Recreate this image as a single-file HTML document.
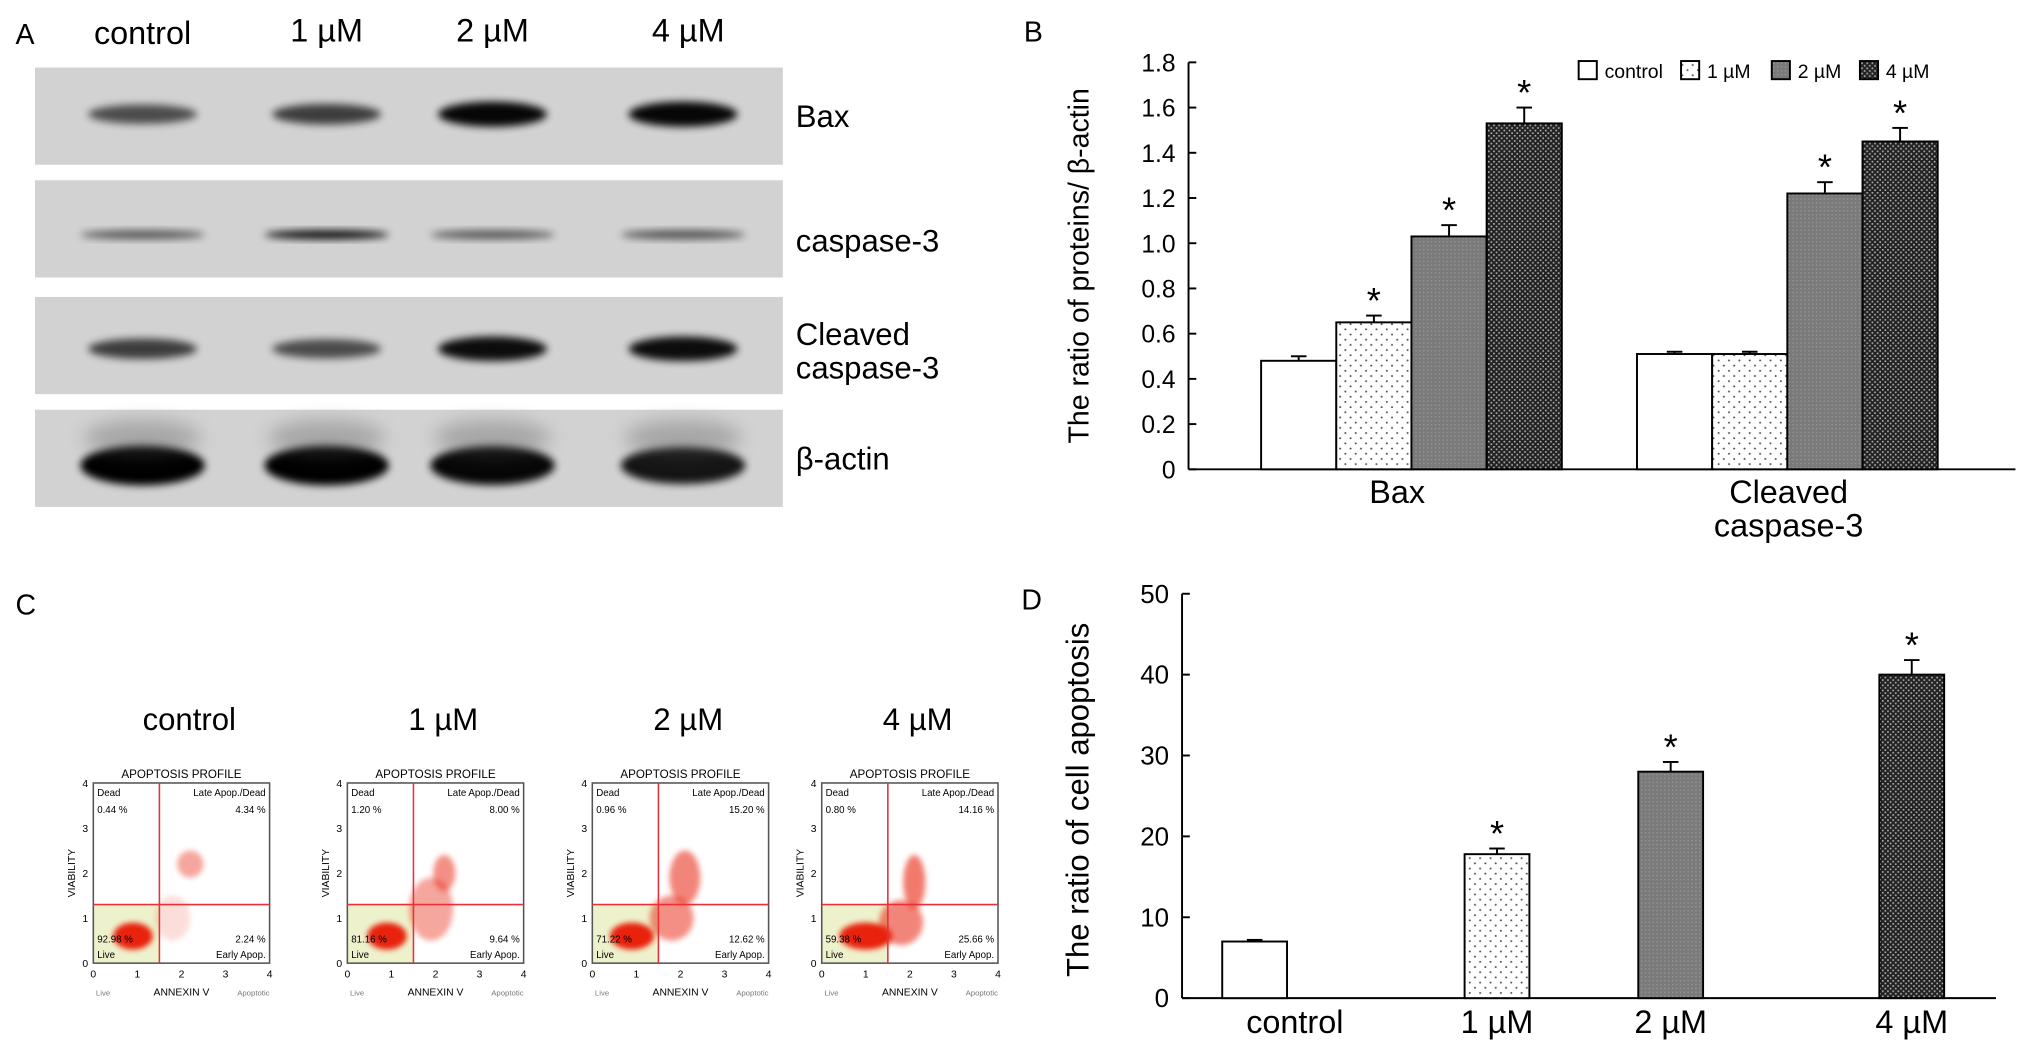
<!DOCTYPE html>
<html><head><meta charset="utf-8"><style>
html,body{margin:0;padding:0;background:#fff;}
svg{display:block;font-family:"Liberation Sans",Arial,sans-serif;}
</style></head><body>
<svg id="fig" width="2031" height="1054" viewBox="0 0 1567 813" xmlns="http://www.w3.org/2000/svg">
<defs>
<filter id="blur3" x="-50%" y="-50%" width="200%" height="200%"><feGaussianBlur stdDeviation="3"/></filter>
<filter id="blur6" x="-50%" y="-50%" width="200%" height="200%"><feGaussianBlur stdDeviation="7"/></filter>
<filter id="blur2" x="-50%" y="-50%" width="200%" height="200%"><feGaussianBlur stdDeviation="2"/></filter>
<pattern id="pDot" width="8" height="8" patternUnits="userSpaceOnUse"><rect width="8" height="8" fill="#fff"/><circle cx="2" cy="2" r="0.8" fill="#555"/><circle cx="6" cy="6" r="0.8" fill="#555"/></pattern>
<pattern id="pGray" width="3" height="3" patternUnits="userSpaceOnUse"><rect width="3" height="3" fill="#7a7a7a"/><rect width="1" height="1" fill="#999"/></pattern>
<pattern id="pDark" width="4" height="4" patternUnits="userSpaceOnUse"><rect width="4" height="4" fill="#222"/><rect x="0" y="0" width="1.3" height="1.3" fill="#aaa"/><rect x="2" y="2" width="1.3" height="1.3" fill="#aaa"/></pattern>
</defs>

<g>
<text x="12" y="34" font-size="22">A</text>
<text x="110" y="34" font-size="25" text-anchor="middle">control</text>
<text x="252" y="32" font-size="25" text-anchor="middle">1 µM</text>
<text x="380" y="32" font-size="25" text-anchor="middle">2 µM</text>
<text x="531" y="32" font-size="25" text-anchor="middle">4 µM</text>
<g id="blots"></g>
<text x="614" y="98" font-size="24">Bax</text>
<text x="614" y="194" font-size="24">caspase-3</text>
<text x="614" y="266" font-size="24">Cleaved</text>
<text x="614" y="292" font-size="24">caspase-3</text>
<text x="614" y="362" font-size="24">β-actin</text>
</g>

<g id="panelB">
<text x="790" y="32" font-size="22">B</text>
</g>

<g id="panelC">
<text x="12" y="474" font-size="22">C</text>
</g>

<g id="panelD">
<text x="788" y="470" font-size="22">D</text>
</g>
</svg>
<script>
const NS='http://www.w3.org/2000/svg';
function mk(parent,tag,attrs,text){const e=document.createElementNS(NS,tag);for(const k in attrs)e.setAttribute(k,attrs[k]);if(text!==undefined)e.textContent=text;parent.appendChild(e);return e;}

const blotRows=[52,139,229,316];
const laneX=[110,252,380,527];
const bandStrength=[[0.45,0.55,0.95,0.95],[0.35,0.9,0.35,0.4],[0.55,0.45,0.9,0.9],[1,1,0.95,0.85]];
const blots=document.getElementById('blots');
blotRows.forEach((y,ri)=>{
  const r=mk(blots,'rect',{x:27,y:y,width:577,height:75,fill:'#d2d2d2'});
  
  
  laneX.forEach((cx,li)=>{
    const s=bandStrength[ri][li];
    const h=ri===1?3.5:(ri===3?14:9)*(0.6+0.5*s);
    const by=ri===3?y+43:(ri===1?y+42:(ri===2?y+40:y+36));
    const b=mk(blots,'ellipse',{cx:cx,cy:by,rx:ri===3?48:(ri===1?48:42),ry:h,fill:'#000',opacity:(0.35+0.65*s).toFixed(2),filter:'url(#blur3)'});
    
    
    if(ri===3){const g=mk(blots,'ellipse',{cx:cx,cy:y+22,rx:45,ry:14,fill:'#555',opacity:0.35,filter:'url(#blur6)'});}
  });
});

const bGroups=['Bax','Cleaved caspase-3'];
const bSeries=['control','1 µM','2 µM','4 µM'];
const bValues=[[0.48,0.51],[0.65,0.51],[1.03,1.22],[1.53,1.45]];
const bErrors=[[0.02,0.01],[0.03,0.01],[0.05,0.05],[0.07,0.06]];
const bSig=[[false,false],[true,false],[true,true],[true,true]];
const bTicks=[0,0.2,0.4,0.6,0.8,1.0,1.2,1.4,1.6,1.8];
const fills=['#fff','url(#pDot)','url(#pGray)','url(#pDark)'];
(function(){
  const g=document.getElementById('panelB');
  const x0=917,y0=362,yTop=48,vmax=1.8;
  const Y=v=>y0-(v/vmax)*(y0-yTop);
  const groupStart=[973,1263],bw=58;
  mk(g,'line',{x1:x0,y1:y0,x2:1555,y2:y0,stroke:'#000','stroke-width':1.5});
  mk(g,'line',{x1:x0,y1:y0,x2:x0,y2:yTop,stroke:'#000','stroke-width':1.5});
  bTicks.forEach(t=>{
    const l=mk(g,'line',{x1:x0,y1:Y(t),x2:x0+6,y2:Y(t),stroke:'#000','stroke-width':1.5});
    
    const tx=mk(g,'text',{x:x0-10,y:Y(t)+7,'font-size':19,'text-anchor':'end'},t===0?'0':t.toFixed(1));
    
  });
  const tt=mk(g,'text',{x:0,y:0,'font-size':22,'text-anchor':'middle',transform:'translate(840,205) rotate(-90)'},'The ratio of proteins/ β-actin');
  
  bGroups.forEach((gn,gi)=>{
    bSeries.forEach((sn,si)=>{
      const v=bValues[si][gi],e=bErrors[si][gi];
      const x=groupStart[gi]+si*bw;
      const el=mk(g,'line',{x1:x+bw/2,y1:Y(v),x2:x+bw/2,y2:Y(v+e),stroke:'#000','stroke-width':1.5});
      
      const ec=mk(g,'line',{x1:x+bw/2-6,y1:Y(v+e),x2:x+bw/2+6,y2:Y(v+e),stroke:'#000','stroke-width':1.5});
      
      const r=mk(g,'rect',{x:x,y:Y(v),width:bw,height:y0-Y(v),fill:fills[si],stroke:'#000','stroke-width':1.5});
      
      if(bSig[si][gi]){const s=mk(g,'text',{x:x+bw/2,y:Y(v+e)+14,'font-size':28,'text-anchor':'middle'},'*');s.setAttribute('transform','translate(0,-16)');}
    });
  });
  const l1=mk(g,'text',{x:1078,y:388,'font-size':25,'text-anchor':'middle'},'Bax');
  const l2=mk(g,'text',{x:1380,y:388,'font-size':25,'text-anchor':'middle'},'Cleaved');
  const l3=mk(g,'text',{x:1380,y:414,'font-size':25,'text-anchor':'middle'},'caspase-3');
  const legX=[1218,1297,1367,1435];
  bSeries.forEach((sn,si)=>{
    const r=mk(g,'rect',{x:legX[si],y:47,width:14,height:14,fill:fills[si],stroke:'#000','stroke-width':1.5});
    
    const t=mk(g,'text',{x:legX[si]+20,y:60,'font-size':15},sn);
    
  });
})();

const cTitles=['control','1 µM','2 µM','4 µM'];
const cDead=['0.44 %','1.20 %','0.96 %','0.80 %'];
const cLate=['4.34 %','8.00 %','15.20 %','14.16 %'];
const cLive=['92.98 %','81.16 %','71.22 %','59.38 %'];
const cEarly=['2.24 %','9.64 %','12.62 %','25.66 %'];
const cPlotX=[72,268,457,634];
const cClouds=[
 [[0.9,0.6,0.45,0.3,1],[2.2,2.2,0.3,0.3,0.4],[1.8,1.0,0.4,0.5,0.15]],
 [[0.9,0.6,0.45,0.3,1],[1.9,1.2,0.5,0.7,0.4],[2.2,2.0,0.25,0.4,0.5]],
 [[0.9,0.6,0.5,0.3,1],[1.8,1.0,0.5,0.5,0.5],[2.1,1.9,0.35,0.6,0.55]],
 [[1.0,0.6,0.6,0.3,1],[1.8,0.9,0.5,0.5,0.55],[2.1,1.8,0.25,0.6,0.6]]
];
(function(){
  const g=document.getElementById('panelC');
  cPlotX.forEach((px,i)=>{
    const py=604,w=136,h=139;
    const X=v=>px+v/4*w, Y=v=>py+h-v/4*h;
    const t=mk(g,'text',{x:px+w/2+6,y:563,'font-size':24,'text-anchor':'middle'},cTitles[i]);
    
    const st=mk(g,'text',{x:px+w/2,y:600,'font-size':9,'text-anchor':'middle'},'APOPTOSIS PROFILE');
    
    const q=mk(g,'rect',{x:px,y:Y(1.3),width:X(1.5)-px,height:py+h-Y(1.3),fill:'#eef2cc'});
    
    cClouds[i].forEach(c=>{
      const e=mk(g,'ellipse',{cx:X(c[0]),cy:Y(c[1]),rx:c[2]/4*w,ry:c[3]/4*h,fill:'#e8200a',opacity:c[4],filter:'url(#blur2)'});
      
    });
    const b=mk(g,'rect',{x:px,y:py,width:w,height:h,fill:'none',stroke:'#555','stroke-width':1.2});
    
    mk(g,'line',{x1:X(1.5),y1:py,x2:X(1.5),y2:py+h,stroke:'#e8303a','stroke-width':1.2});
    mk(g,'line',{x1:px,y1:Y(1.3),x2:px+w,y2:Y(1.3),stroke:'#e8303a','stroke-width':1.2});
    [0,1,2,3,4].forEach(v=>{
      mk(g,'text',{x:px-4,y:Y(v)+3,'font-size':8,'text-anchor':'end'},String(v));
      mk(g,'text',{x:X(v),y:py+h+11,'font-size':8,'text-anchor':'middle'},String(v));
    });
    mk(g,'text',{x:0,y:0,'font-size':8,'text-anchor':'middle',transform:`translate(${px-14},${py+h/2}) rotate(-90)`},'VIABILITY');
    mk(g,'text',{x:px+w/2,y:py+h+25,'font-size':8,'text-anchor':'middle'},'ANNEXIN V');
    mk(g,'text',{x:px+2,y:py+h+25,'font-size':6,fill:'#777'},'Live');
    mk(g,'text',{x:px+w,y:py+h+25,'font-size':6,fill:'#777','text-anchor':'end'},'Apoptotic');
    mk(g,'text',{x:px+3,y:py+10,'font-size':7.5},'Dead');
    mk(g,'text',{x:px+3,y:py+23,'font-size':7.5},cDead[i]);
    mk(g,'text',{x:px+w-3,y:py+10,'font-size':7.5,'text-anchor':'end'},'Late Apop./Dead');
    mk(g,'text',{x:px+w-3,y:py+23,'font-size':7.5,'text-anchor':'end'},cLate[i]);
    mk(g,'text',{x:px+3,y:py+h-16,'font-size':7.5},cLive[i]);
    mk(g,'text',{x:px+3,y:py+h-4,'font-size':7.5},'Live');
    mk(g,'text',{x:px+w-3,y:py+h-16,'font-size':7.5,'text-anchor':'end'},cEarly[i]);
    mk(g,'text',{x:px+w-3,y:py+h-4,'font-size':7.5,'text-anchor':'end'},'Early Apop.');
  });
})();

const dCategories=['control','1 µM','2 µM','4 µM'];
const dValues=[7,17.8,28,40];
const dErrors=[0.2,0.7,1.2,1.8];
const dSig=[false,true,true,true];
const dTicks=[0,10,20,30,40,50];
(function(){
  const g=document.getElementById('panelD');
  const x0=912,y0=770,yTop=458,vmax=50;
  const Y=v=>y0-(v/vmax)*(y0-yTop);
  const barX=[943,1130,1264,1450],bw=50;
  const lblX=[999,1155,1289,1475];
  mk(g,'line',{x1:x0,y1:y0,x2:1540,y2:y0,stroke:'#000','stroke-width':1.5});
  mk(g,'line',{x1:x0,y1:y0,x2:x0,y2:yTop,stroke:'#000','stroke-width':1.5});
  dTicks.forEach(t=>{
    const l=mk(g,'line',{x1:x0,y1:Y(t),x2:x0+6,y2:Y(t),stroke:'#000','stroke-width':1.5});
    
    const tx=mk(g,'text',{x:x0-10,y:Y(t)+7,'font-size':20,'text-anchor':'end'},String(t));
    
  });
  const tt=mk(g,'text',{x:0,y:0,'font-size':24,'text-anchor':'middle',transform:'translate(840,617) rotate(-90)'},'The ratio of cell apoptosis');
  
  dCategories.forEach((c,i)=>{
    const v=dValues[i],e=dErrors[i],x=barX[i];
    const el=mk(g,'line',{x1:x+bw/2,y1:Y(v),x2:x+bw/2,y2:Y(v+e),stroke:'#000','stroke-width':1.5});
    
    const ec=mk(g,'line',{x1:x+bw/2-6,y1:Y(v+e),x2:x+bw/2+6,y2:Y(v+e),stroke:'#000','stroke-width':1.5});
    
    const r=mk(g,'rect',{x:x,y:Y(v),width:bw,height:y0-Y(v),fill:fills[i],stroke:'#000','stroke-width':1.5});
    
    if(dSig[i]){const s=mk(g,'text',{x:x+bw/2,y:Y(v+e)+14,'font-size':28,'text-anchor':'middle'},'*');s.setAttribute('transform','translate(0,-16)');}
    const lb=mk(g,'text',{x:lblX[i],y:797,'font-size':25,'text-anchor':'middle'},c);
    
  });
})();
</script>
</body></html>
